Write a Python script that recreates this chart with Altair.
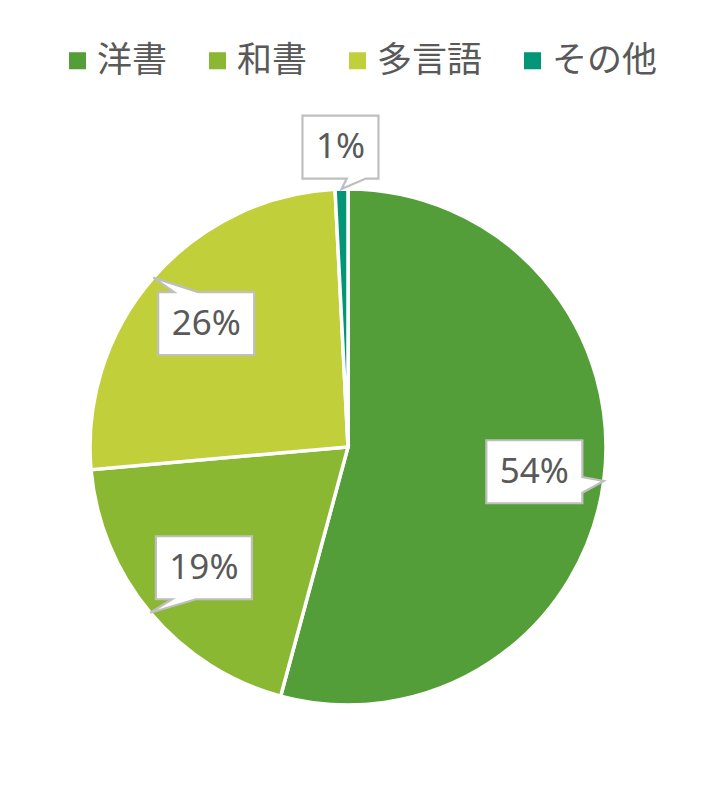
import altair as alt
import pandas as pd

categories = ["洋書", "和書", "多言語", "その他"]
values = [54.2, 19.4, 25.6, 0.8]
labels = ["54%", "19%", "26%", "1%"]
colors = ["#549E39", "#8AB833", "#C0CF3A", "#029676"]

df = pd.DataFrame({
    "category": categories,
    "value": values,
    "label": labels,
    "order": list(range(len(categories))),
})

CX, CY, R = 340, 439, 258
TEXT = "#595959"

base = alt.Chart(df)

pie = base.mark_arc(radius=R, stroke="white", strokeWidth=3.5).encode(
    theta=alt.Theta("value:Q", stack=True),
    color=alt.Color(
        "category:N",
        scale=alt.Scale(domain=categories, range=colors),
        sort=categories,
        legend=alt.Legend(
            orient="none", legendX=52, legendY=35, direction="horizontal",
            title=None, symbolType="square", symbolSize=290, symbolStrokeWidth=0,
            labelFontSize=35, labelFont="Noto Sans CJK JP", labelColor=TEXT,
            labelOffset=2, columnPadding=32, labelLimit=300,
        ),
    ),
    order=alt.Order("order:Q"),
    x=alt.value(CX),
    y=alt.value(CY),
)

calc = (
    base.transform_joinaggregate(total="sum(value)")
    .transform_window(cum="sum(value)", sort=[alt.SortField("order")], frame=[None, 0])
    .transform_calculate(mid="2*PI*(datum.cum - datum.value/2)/datum.total")
    .transform_calculate(frac="datum.value/datum.total")
    .transform_calculate(lr="datum.frac < 0.05 ? 300 : 188")
    .transform_calculate(bx=f"{CX} + datum.lr*sin(datum.mid)")
    .transform_calculate(by=f"{CY} - datum.lr*cos(datum.mid)")
    .transform_calculate(tx=f"{CX} + {R}*sin(datum.mid)")
    .transform_calculate(ty=f"{CY} - {R}*cos(datum.mid)")
    .transform_calculate(W="length(datum.label)*10 + 18")
    .transform_calculate(H="31.5")
    .transform_calculate(dx="datum.tx - datum.bx")
    .transform_calculate(dy="datum.ty - datum.by")
    .transform_calculate(vert="abs(datum.dy)/datum.H > abs(datum.dx)/datum.W")
    .transform_calculate(xa="-datum.W + 2*datum.W*(datum.dx > 0 ? 7 : 2)/12")
    .transform_calculate(xb="-datum.W + 2*datum.W*(datum.dx > 0 ? 10 : 5)/12")
    .transform_calculate(ya="-datum.H + 2*datum.H*(datum.dy > 0 ? 7 : 2)/12")
    .transform_calculate(yb="-datum.H + 2*datum.H*(datum.dy > 0 ? 10 : 5)/12")
)

def pt(x, y):
    return f"'L' + ({x}) + ',' + ({y})"

tip = pt("datum.dx", "datum.dy")
path_expr = (
    "'M' + (-datum.W) + ',' + (-datum.H)"
    f" + ((datum.vert && datum.dy < 0) ? ({pt('datum.xa', '-datum.H')} + {tip} + {pt('datum.xb', '-datum.H')}) : '')"
    f" + {pt('datum.W', '-datum.H')}"
    f" + ((!datum.vert && datum.dx > 0) ? ({pt('datum.W', 'datum.ya')} + {tip} + {pt('datum.W', 'datum.yb')}) : '')"
    f" + {pt('datum.W', 'datum.H')}"
    f" + ((datum.vert && datum.dy > 0) ? ({pt('datum.xb', 'datum.H')} + {tip} + {pt('datum.xa', 'datum.H')}) : '')"
    f" + {pt('-datum.W', 'datum.H')}"
    f" + ((!datum.vert && datum.dx < 0) ? ({pt('-datum.W', 'datum.yb')} + {tip} + {pt('-datum.W', 'datum.ya')}) : '')"
    " + 'Z'"
)

boxes = calc.transform_calculate(path=path_expr).mark_point(
    filled=True, fill="white", stroke="#BFBFBF", strokeWidth=2.2, opacity=1, fillOpacity=1
).encode(
    x=alt.X("bx:Q", scale=None, axis=None),
    y=alt.Y("by:Q", scale=None, axis=None),
    shape=alt.Shape("path:N", scale=None, legend=None),
    size=alt.value(4),
)

texts = calc.mark_text(font="Noto Sans", fontSize=35, color=TEXT).encode(
    x=alt.X("bx:Q", scale=None, axis=None),
    y=alt.Y("by:Q", scale=None, axis=None),
    text="label:N",
)

chart = alt.layer(pie, boxes, texts).properties(
    width=693, height=775, padding=0,
    autosize=alt.AutoSizeParams(type="none"),
).configure_view(stroke=None)

chart.save("out.html", embed_options={"renderer": "svg", "actions": False})
